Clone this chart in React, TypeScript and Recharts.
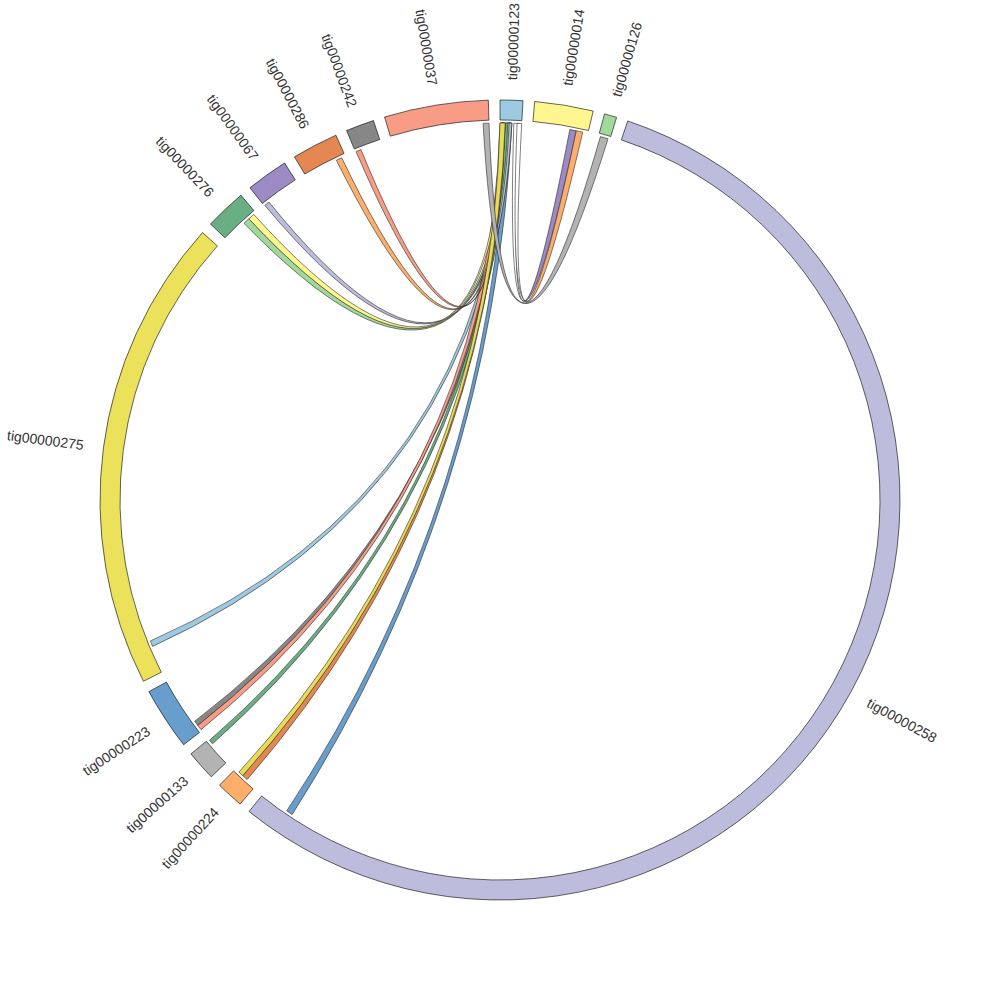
import React from 'react';
import { PieChart, Pie, Cell, Customized } from 'recharts';

// contigs, clockwise from 12 o'clock
const contigNames = [
  'tig00000123', 'tig00000014', 'tig00000126', 'tig00000258', 'tig00000224',
  'tig00000133', 'tig00000223', 'tig00000275', 'tig00000276', 'tig00000067',
  'tig00000286', 'tig00000242', 'tig00000037',
];
// contig lengths (kb)
const contigLengths = [33, 85, 18, 2002, 40, 44, 91, 689, 60, 61, 67, 41, 151];
const contigColors = [
  '#9ECAE1', '#FFF68F', '#A1D99B', '#BCBDDC', '#FDAE6B',
  '#B3B3B3', '#679ECE', '#EBE15A', '#69AF83', '#9B8AC3',
  '#E58752', '#878787', '#F99C86',
];

// links (positions in kb inside each contig)
const linkFrom = [
  'tig00000123', 'tig00000123', 'tig00000123', 'tig00000123', 'tig00000123',
  'tig00000123', 'tig00000123', 'tig00000123', 'tig00000123', 'tig00000123',
  'tig00000123', 'tig00000123', 'tig00000123', 'tig00000123', 'tig00000037',
];
const linkFromStart = [10, 10, 9, 8, 12, 14, 0, 2, 1, 3, 4, 0, 21, 26, 142];
const linkFromEnd = [18, 17, 16, 15, 18, 18, 8, 7, 6, 7, 8, 8, 29, 33, 151];
const linkTo = [
  'tig00000258', 'tig00000275', 'tig00000223', 'tig00000133', 'tig00000276',
  'tig00000067', 'tig00000223', 'tig00000276', 'tig00000286', 'tig00000242',
  'tig00000224', 'tig00000224', 'tig00000014', 'tig00000014', 'tig00000126',
];
const linkToStart = [1948, 41, 10, 35, 36, 1, 2, 46, 52, 1, 16, 25, 57, 67, 3];
const linkToEnd = [1958, 50, 18, 42, 46, 9, 10, 56, 61, 9, 25, 33, 67, 77, 15];
const linkColors = [
  '#679ECE', '#9ECAE1', '#878787', '#69AF83', '#A1D99B',
  '#BCBDDC', '#F99C86', '#FFF68F', '#FDAE6B', '#F99C86',
  '#E58752', '#E8DC55', '#9B8AC3', '#FDAE6B', '#B3B3B3',
];
const linkFade = [false, false, false, false, false, false, false, false, false, false, false, false, true, true, false];

const W = 1000;
const H = 1000;
const CX = 500;
const CY = 500;
const R_OUT = 400;
const R_IN = 380;
const R_LINK = 377;
const R_LABEL = 420;
const PAD = 1.673;
const BEND = 0.065;

const pieData = contigNames.map((name, i) => ({ name, length: contigLengths[i] }));
const totalLen = contigLengths.reduce((a, b) => a + b, 0);
const realTotal = 360 - contigNames.length * PAD;
const offsets: number[] = [];
contigLengths.reduce((acc, v, i) => {
  offsets[i] = acc;
  return acc + v;
}, 0);

// clockwise angle from 12 o'clock, same layout as the Pie
function cwAngle(name: string, pos: number) {
  const i = contigNames.indexOf(name);
  return ((offsets[i] + pos) / totalLen) * realTotal + i * PAD;
}

function pt(theta: number, r: number, cx = CX, cy = CY): [number, number] {
  const a = (theta * Math.PI) / 180;
  return [cx + r * Math.sin(a), cy - r * Math.cos(a)];
}

function ctrl(a: [number, number], b: [number, number]) {
  const mx = (a[0] + b[0]) / 2;
  const my = (a[1] + b[1]) / 2;
  return `${CX + BEND * (mx - CX)},${CY + BEND * (my - CY)}`;
}

function ribbonPath(s0: number, s1: number, t0: number, t1: number) {
  const r = R_LINK;
  const p0 = pt(s0, r);
  const p1 = pt(s1, r);
  const p2 = pt(t0, r);
  const p3 = pt(t1, r);
  return (
    `M${p0[0]},${p0[1]} A${r},${r} 0 0 1 ${p1[0]},${p1[1]} ` +
    `Q${ctrl(p1, p2)} ${p2[0]},${p2[1]} A${r},${r} 0 0 1 ${p3[0]},${p3[1]} ` +
    `Q${ctrl(p3, p0)} ${p0[0]},${p0[1]} Z`
  );
}

const RibbonLayer = () => (
  <g>
    <defs>
      {linkColors.map((c, i) =>
        linkFade[i] ? (
          <linearGradient key={i} id={`fade${i}`} gradientUnits="userSpaceOnUse" x1={523} y1={0} x2={527} y2={0}>
            <stop offset="0" stopColor="#ffffff" />
            <stop offset="1" stopColor={c} />
          </linearGradient>
        ) : null
      )}
    </defs>
    {linkFrom.map((f, i) => (
      <path
        key={i}
        d={ribbonPath(
          cwAngle(f, linkFromStart[i]),
          cwAngle(f, linkFromEnd[i]),
          cwAngle(linkTo[i], linkToStart[i]),
          cwAngle(linkTo[i], linkToEnd[i])
        )}
        fill={linkFade[i] ? `url(#fade${i})` : linkColors[i]}
        stroke="#2a2a2a"
        strokeWidth={0.6}
      />
    ))}
  </g>
);

const renderLabel = (props: any) => {
  const { cx, cy, midAngle, index } = props;
  const theta = (((90 - midAngle) % 360) + 360) % 360;
  const right = theta < 180;
  const [x, y] = pt(theta, R_LABEL, cx, cy);
  const rot = right ? theta - 90 : theta + 90;
  return (
    <text
      x={x}
      y={y}
      transform={`rotate(${rot} ${x} ${y})`}
      textAnchor={right ? 'start' : 'end'}
      dominantBaseline="central"
      fontFamily="'Liberation Sans', Arial, sans-serif"
      fontSize={14}
      fill="#333333"
    >
      {contigNames[index]}
    </text>
  );
};

export default function App() {
  return (
    <div style={{ position: 'absolute', left: 0, top: 0, width: W, height: H, background: '#fff' }}>
      <PieChart width={W} height={H} margin={{ top: 0, right: 0, bottom: 0, left: 0 }}>
        <Customized component={RibbonLayer} />
        <Pie
          data={pieData}
          dataKey="length"
          nameKey="name"
          cx={CX}
          cy={CY}
          innerRadius={R_IN}
          outerRadius={R_OUT}
          startAngle={90}
          endAngle={-270}
          paddingAngle={PAD}
          stroke="#000"
          strokeWidth={0.6}
          label={renderLabel}
          labelLine={false}
          isAnimationActive={false}
        >
          {pieData.map((d, i) => (
            <Cell key={d.name} fill={contigColors[i]} />
          ))}
        </Pie>
      </PieChart>
    </div>
  );
}
